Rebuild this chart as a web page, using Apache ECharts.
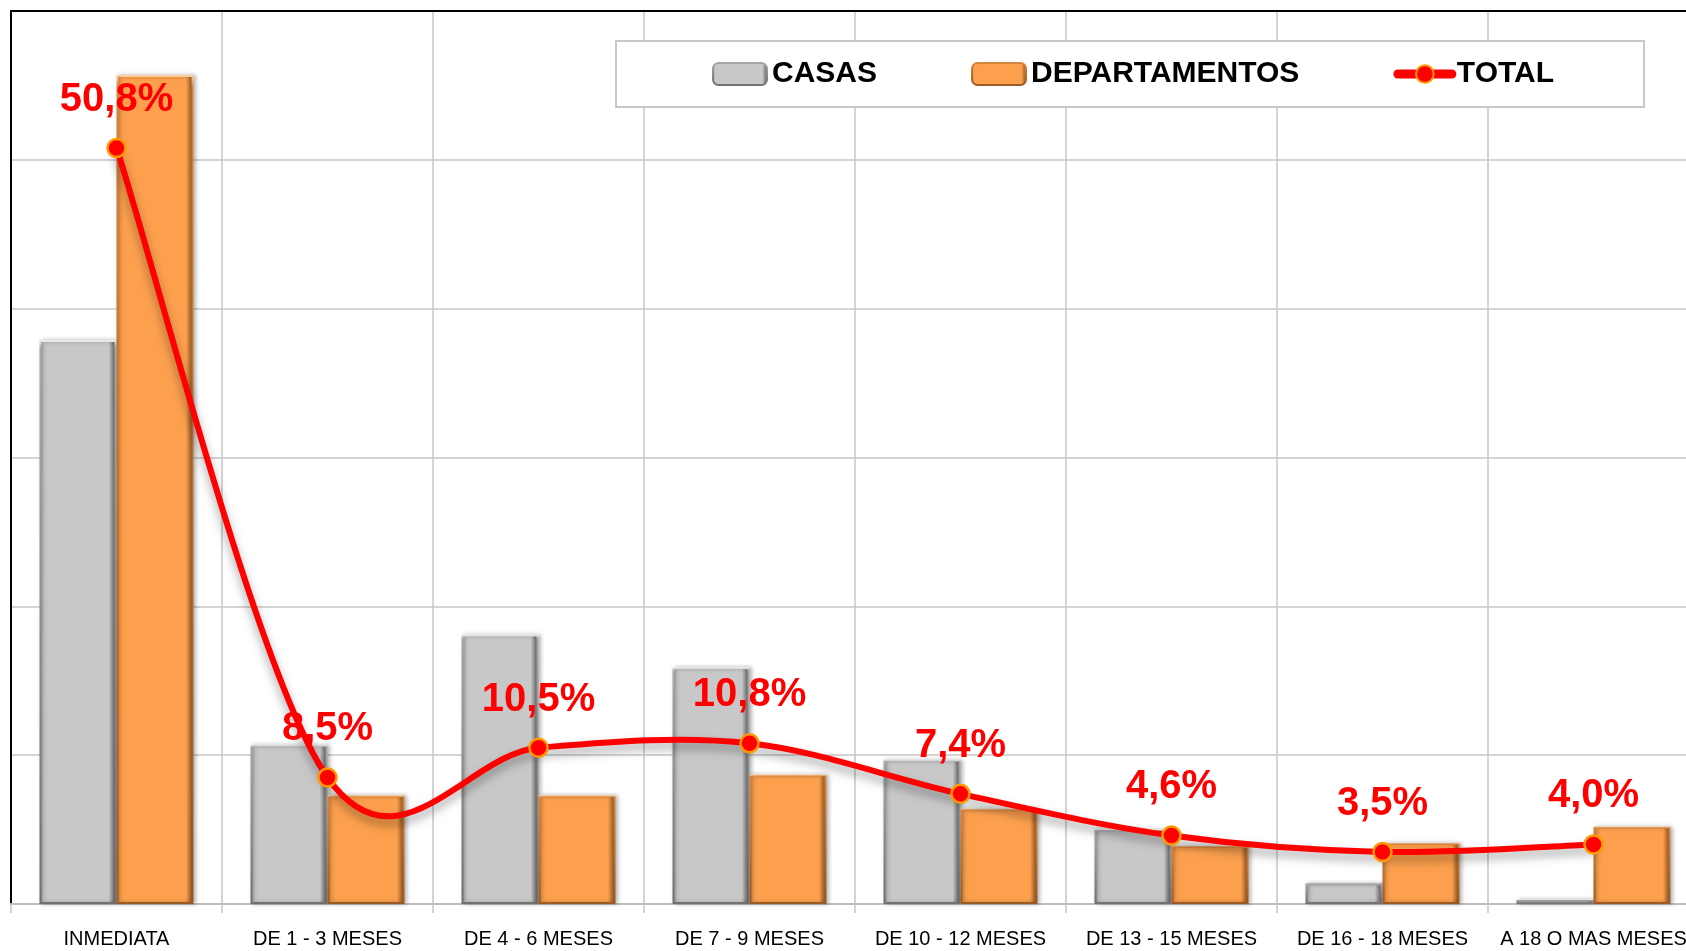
<!DOCTYPE html>
<html>
<head>
<meta charset="utf-8">
<title>Tiempo de compra</title>
<script src="https://cdn.jsdelivr.net/npm/echarts@6/dist/echarts.min.js"></script>
<style>
  html, body { margin: 0; padding: 0; background: #fff; }
  #chart { width: 1686px; height: 951px; }
</style>
</head>
<body>
<div id="chart"></div>
<script>
// datos (porcentajes)
const categorias = ['INMEDIATA', 'DE 1 - 3 MESES', 'DE 4 - 6 MESES', 'DE 7 - 9 MESES',
  'DE 10 - 12 MESES', 'DE 13 - 15 MESES', 'DE 16 - 18 MESES', 'A 18 O MAS MESES']
const casas = [37.9, 10.7, 18.1, 15.9, 9.7, 5.0, 1.4, 0.3]
const departamentos = [55.7, 7.3, 7.3, 8.7, 6.4, 3.9, 4.1, 5.2]
const total = [50.8, 8.5, 10.5, 10.8, 7.4, 4.6, 3.5, 4.0]

const FONT = "'Liberation Sans', Arial, sans-serif"

// relleno tipo bisel (bordes oscuros a los lados)
const grisBarra = new echarts.graphic.LinearGradient(0, 0, 1, 0, [
  { offset: 0, color: '#8e8e8e' },
  { offset: 0.06, color: '#c8c8c8' },
  { offset: 0.9, color: '#c8c8c8' },
  { offset: 0.96, color: '#7a7a7a' },
  { offset: 1, color: '#474747' },
])
const naranjaBarra = new echarts.graphic.LinearGradient(0, 0, 1, 0, [
  { offset: 0, color: '#c47a3a' },
  { offset: 0.06, color: '#fda04e' },
  { offset: 0.9, color: '#fda04e' },
  { offset: 0.96, color: '#ad6a2e' },
  { offset: 1, color: '#5e3817' },
])
// borde: claro arriba, oscuro abajo
const grisBorde = new echarts.graphic.LinearGradient(0, 0, 0, 1, [
  { offset: 0, color: '#f2f2f2' },
  { offset: 0.015, color: '#a8a8a8' },
  { offset: 1, color: '#707070' },
])
const naranjaBorde = new echarts.graphic.LinearGradient(0, 0, 0, 1, [
  { offset: 0, color: '#ffd2a4' },
  { offset: 0.015, color: '#d8853e' },
  { offset: 1, color: '#9a5a24' },
])

const grisLinea = '#c6c6c6'

// curva suavizada tipo Excel (catmull-rom), el smooth de echarts no deja sobrepasar los puntos
function curvaTotal(params, api) {
  if (params.dataIndex !== 0) return
  const pts = total.map((v, i) => api.coord([i, v]))
  let d = 'M' + pts[0][0] + ' ' + pts[0][1]
  for (let i = 0; i < pts.length - 1; i++) {
    const p0 = pts[Math.max(i - 1, 0)]
    const p1 = pts[i]
    const p2 = pts[i + 1]
    const p3 = pts[Math.min(i + 2, pts.length - 1)]
    const c1x = p1[0] + (p2[0] - p0[0]) / 6
    const c1y = p1[1] + (p2[1] - p0[1]) / 6
    const c2x = p2[0] - (p3[0] - p1[0]) / 6
    const c2y = p2[1] - (p3[1] - p1[1]) / 6
    d += ' C' + c1x + ' ' + c1y + ' ' + c2x + ' ' + c2y + ' ' + p2[0] + ' ' + p2[1]
  }
  return {
    type: 'path',
    shape: { pathData: d },
    style: {
      fill: null,
      stroke: '#ff0000',
      lineWidth: 6,
      lineCap: 'round',
      lineJoin: 'round',
      shadowColor: 'rgba(0,0,0,0.35)',
      shadowBlur: 10,
      shadowOffsetY: 6,
    },
  }
}

const option = {
  animation: false,
  backgroundColor: '#fff',
  grid: {
    // el area de trazado sigue mas alla del borde derecho
    left: 11,
    top: 11,
    width: 1688,
    bottom: 47,
    outerBoundsMode: 'none',
    containLabel: false,
  },
  legend: {
    left: 616,
    top: 41,
    width: 1100,
    padding: [18, 90, 18, 96],
    itemGap: 94,
    itemWidth: 54,
    itemHeight: 22,
    borderColor: '#c8c8c8',
    borderWidth: 2,
    backgroundColor: '#fff',
    textStyle: {
      fontFamily: FONT,
      fontWeight: 'bold',
      fontSize: 30,
      color: '#000',
    },
    data: [
      'CASAS',
      'DEPARTAMENTOS',
      {
        name: 'TOTAL',
        lineStyle: { color: '#ff0000', width: 9, opacity: 1, cap: 'round' },
        itemStyle: { color: '#ff0000', borderColor: '#ff9900', borderWidth: 2 },
      },
    ],
  },
  xAxis: [
    {
      type: 'category',
      data: categorias,
      axisLine: { lineStyle: { color: '#bdbdbd', width: 2 } },
      axisTick: { show: true, length: 9, lineStyle: { color: grisLinea, width: 1.5 } },
      splitLine: { show: true, lineStyle: { color: grisLinea, width: 1.5 } },
      axisLabel: {
        fontFamily: FONT,
        fontSize: 20,
        color: '#000',
        margin: 25,
        interval: 0,
      },
    },
    {
      // solo para el borde negro superior del area de trazado
      type: 'category',
      position: 'top',
      data: categorias,
      axisLine: { lineStyle: { color: '#000', width: 2 } },
      axisTick: { show: false },
      axisLabel: { show: false },
    },
  ],
  yAxis: {
    type: 'value',
    min: 0,
    max: 60,
    interval: 10,
    axisLine: { show: true, lineStyle: { color: '#000', width: 2 } },
    axisTick: { show: false },
    axisLabel: { show: false },
    splitLine: { lineStyle: { color: grisLinea, width: 1.5 } },
  },
  series: [
    {
      name: 'CASAS',
      type: 'bar',
      barWidth: 77,
      barGap: '0%',
      data: casas,
      itemStyle: {
        color: grisBarra,
        borderColor: grisBorde,
        borderWidth: 2,
        shadowColor: 'rgba(0,0,0,0.25)',
        shadowBlur: 4,
        shadowOffsetX: 2,
      },
    },
    {
      name: 'DEPARTAMENTOS',
      type: 'bar',
      barWidth: 77,
      barGap: '0%',
      data: departamentos,
      itemStyle: {
        color: naranjaBarra,
        borderColor: naranjaBorde,
        borderWidth: 2,
        shadowColor: 'rgba(0,0,0,0.25)',
        shadowBlur: 4,
        shadowOffsetX: 2,
      },
    },
    {
      name: 'curva',
      type: 'custom',
      z: 4,
      data: total.map((v, i) => [i, v]),
      renderItem: curvaTotal,
      silent: true,
    },
    {
      name: 'TOTAL',
      type: 'line',
      data: total,
      z: 5,
      symbol: 'circle',
      symbolSize: 18,
      lineStyle: { opacity: 0 },
      itemStyle: {
        color: '#ff0000',
        borderColor: '#ff9900',
        borderWidth: 2.5,
      },
      label: {
        show: true,
        position: 'top',
        distance: 18,
        fontFamily: FONT,
        fontWeight: 'bold',
        fontSize: 40,
        color: '#ff0000',
        formatter: (p) => p.value.toFixed(1).replace('.', ',') + '%',
      },
    },
  ],
}

const myChart = echarts.init(document.getElementById('chart'), null, { renderer: 'canvas' })
myChart.setOption(option)
window.onresize = function () {
  myChart.resize()
}
</script>
</body>
</html>
